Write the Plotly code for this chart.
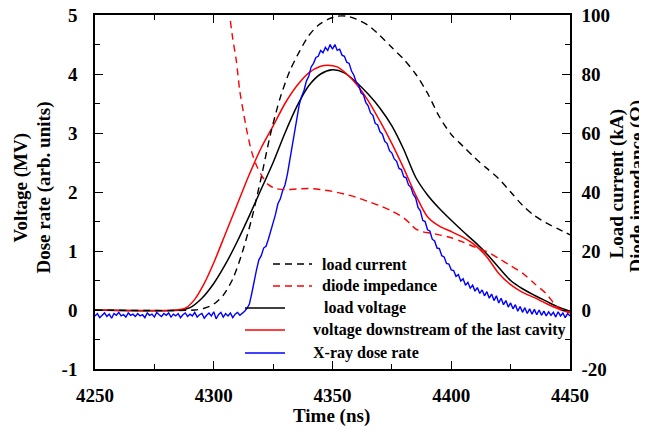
import plotly.graph_objects as go

# ---------------- data ----------------
# X-ray dose rate (arb. units), 1 ns steps from 4250 to 4450
dose_t = list(range(4250, 4451))
dose_v = [
    -0.10, -0.06, -0.13, -0.08, -0.05, -0.11, -0.07, -0.14, -0.06, -0.09,
    -0.04, -0.10, -0.08, -0.12, -0.05, -0.09, -0.07, -0.11, -0.06, -0.10,
    -0.08, -0.13, -0.05, -0.09, -0.07, -0.12, -0.04, -0.08, -0.11, -0.06,
    -0.09, -0.05, -0.12, -0.07, -0.10, -0.06, -0.13, -0.08, -0.05, -0.11,
    -0.07, -0.10, -0.04, -0.12, -0.08, -0.06, -0.14, -0.09, -0.05, -0.10,
    -0.03, -0.15, -0.08, -0.04, -0.12, -0.06, -0.10, -0.05, -0.13, -0.07,
    -0.04, -0.09, -0.06,
    -0.02, 0.03, 0.10, 0.28, 0.50, 0.68, 0.85, 0.92, 1.05, 1.08,
    1.20, 1.33, 1.50, 1.62, 1.80, 1.88, 2.02, 2.12, 2.30, 2.55,
    2.80, 3.02, 3.30, 3.48, 3.62, 3.72, 3.88, 3.96, 4.12, 4.18,
    4.28, 4.30, 4.40, 4.36, 4.45, 4.40, 4.50, 4.42, 4.50, 4.40,
    4.42, 4.32, 4.30, 4.20, 4.18, 4.05, 3.98, 3.86, 3.82, 3.68,
    3.65, 3.52, 3.46, 3.34, 3.30, 3.16, 3.14, 3.02, 2.98, 2.86,
    2.82, 2.70, 2.66, 2.56, 2.52, 2.40, 2.38, 2.26, 2.24, 2.12,
    2.08, 1.96, 1.90, 1.74, 1.68, 1.52, 1.50, 1.36, 1.34, 1.20,
    1.17, 1.05, 1.04, 0.92, 0.90, 0.79, 0.78, 0.68, 0.67, 0.57,
    0.60, 0.49, 0.53, 0.42, 0.47, 0.37, 0.42, 0.32, 0.38, 0.28,
    0.34, 0.24, 0.31, 0.20, 0.27, 0.16, 0.24, 0.12, 0.20, 0.09,
    0.16, 0.05, 0.12, 0.02, 0.09, -0.02, 0.06, -0.04, 0.04, -0.06,
    0.02, -0.07, 0.01, -0.08, 0.00, -0.09, -0.02, -0.10, -0.03, -0.09,
    -0.04, -0.12, -0.03, -0.10, -0.05, -0.13, -0.06, -0.10,
]

# load voltage (MV)
lv_t = [4250, 4286, 4290, 4295, 4300, 4305, 4310, 4315, 4320, 4325, 4330,
        4335, 4340, 4345, 4350, 4355, 4360, 4365, 4370, 4375, 4380, 4385,
        4390, 4395, 4400, 4405, 4410, 4415, 4420, 4425, 4430, 4435, 4440,
        4445, 4450]
lv_v = [0.0, 0.0, 0.04, 0.2, 0.45, 0.78, 1.17, 1.6, 2.05, 2.5, 3.0,
        3.45, 3.8, 4.0, 4.07, 4.02, 3.86, 3.66, 3.42, 3.12, 2.72, 2.25,
        1.95, 1.72, 1.52, 1.33, 1.15, 0.95, 0.72, 0.5, 0.36, 0.25, 0.15,
        0.05, -0.02]

# voltage downstream of the last cavity (MV)
vd_t = [4250, 4284, 4288, 4292, 4296, 4300, 4305, 4310, 4315, 4320, 4325,
        4330, 4335, 4340, 4345, 4348, 4352, 4356, 4360, 4365, 4370, 4375,
        4380, 4385, 4390, 4395, 4400, 4405, 4410, 4415, 4420, 4425, 4430,
        4435, 4440, 4445, 4450]
vd_v = [0.0, 0.0, 0.03, 0.18, 0.45, 0.8, 1.3, 1.8, 2.3, 2.75, 3.12,
        3.5, 3.8, 4.02, 4.13, 4.15, 4.12, 4.0, 3.83, 3.55, 3.2, 2.82,
        2.4, 1.95, 1.58, 1.42, 1.33, 1.23, 1.1, 0.9, 0.62, 0.43, 0.3,
        0.21, 0.11, 0.02, -0.05]

# load current (kA)
lc_t = [4250, 4292, 4296, 4300, 4304, 4308, 4312, 4316, 4320, 4324, 4328,
        4332, 4336, 4340, 4344, 4348, 4352, 4356, 4360, 4365, 4370, 4375,
        4380, 4385, 4390, 4395, 4400, 4405, 4410, 4415, 4420, 4425, 4430,
        4435, 4440, 4445, 4450]
lc_v = [0.0, 0.0, 0.6, 2.0, 5.0, 10.5, 19.5, 31.0, 45.0, 60.0, 72.0,
        81.0, 87.5, 93.0, 96.5, 98.5, 99.6, 99.6, 98.6, 96.5, 93.0, 89.0,
        85.0, 80.0, 73.5, 65.5, 59.5, 55.5, 51.5, 48.0, 44.5, 40.0, 35.5,
        32.0, 29.5, 27.5, 25.5]

# diode impedance (Ohm)
di_t = [4307.0, 4308.0, 4309.5, 4311.0, 4312.5, 4314.0, 4316.0, 4318.0,
        4320.6, 4323.0, 4326.0, 4330.0, 4335.0, 4340.0, 4345.0, 4350.0,
        4355.0, 4360.0, 4365.0, 4370.0, 4375.0, 4380.0, 4383.0, 4385.0,
        4388.0, 4392.0, 4396.0, 4400.0, 4405.0, 4410.0, 4415.0, 4420.0,
        4425.0, 4430.0, 4435.0, 4440.0, 4444.0, 4447.0, 4450.0]
di_v = [98.0, 92.0, 84.5, 74.0, 67.0, 60.5, 53.5, 49.0,
        45.0, 42.5, 41.2, 40.8, 41.0, 41.2, 40.8, 40.2,
        39.3, 38.2, 36.8, 35.3, 33.5, 31.2, 29.0, 27.5,
        26.5, 26.0, 25.3, 24.5, 23.0, 21.3, 19.8, 17.5,
        15.0, 12.5, 9.0, 5.5, 1.5, -0.3, -0.5]

legend_labels = ["load current", "diode impedance", "load voltage",
                 "voltage downstream of the last cavity", "X-ray dose rate"]

x_ticks = [4250, 4300, 4350, 4400, 4450]
y_ticks = [-1, 0, 1, 2, 3, 4, 5]
y_ticktext = ["-1", "0", "1", "2", "3", "4", "5"]
y2_ticks = [-20, 0, 20, 40, 60, 80, 100]
y2_ticktext = ["-20", "0", "20", "40", "60", "80", "100"]

# ---------------- layout helpers ----------------
# the page body has an 8px margin, so the figure is drawn 8px in from the corner
OFF = 8
W, H = 647 - OFF, 433 - OFF
# plot area in page pixels
PL, PR, PT, PB = 95, 570, 15, 369
L, R, T, B = PL - OFF, PR - OFF, PT - OFF, PB - OFF
FONT = "Liberation Serif"


def px(x):
    """page x pixel -> paper coordinate"""
    return (x - PL) / (PR - PL)


def py(y):
    """page y pixel -> paper coordinate"""
    return (PB - y) / (PB - PT)


fig = go.Figure()

fig.add_trace(go.Scatter(x=lc_t, y=lc_v, yaxis="y2", mode="lines",
                         line=dict(color="black", width=1.4, dash="7px,5px", shape="spline", smoothing=0.8),
                         name=legend_labels[0], showlegend=False))
fig.add_trace(go.Scatter(x=di_t, y=di_v, yaxis="y2", mode="lines",
                         line=dict(color="#ff0000", width=1.4, dash="7px,5px", shape="spline", smoothing=0.8),
                         name=legend_labels[1], showlegend=False))
fig.add_trace(go.Scatter(x=lv_t, y=lv_v, mode="lines",
                         line=dict(color="black", width=1.5, shape="spline", smoothing=0.8),
                         name=legend_labels[2], showlegend=False))
fig.add_trace(go.Scatter(x=vd_t, y=vd_v, mode="lines",
                         line=dict(color="#ff0000", width=1.5, shape="spline", smoothing=0.8),
                         name=legend_labels[3], showlegend=False))
fig.add_trace(go.Scatter(x=dose_t, y=dose_v, mode="lines",
                         line=dict(color="#0000ff", width=1.4),
                         name=legend_labels[4], showlegend=False))

tickfont = dict(family=FONT, size=19, color="black", weight="bold")
titlefont = dict(family=FONT, size=19, color="black", weight="bold")

fig.update_layout(
    width=W, height=H,
    font=dict(family=FONT, color="black"),
    margin=dict(l=L, r=W - R, t=T, b=H - B, pad=0, autoexpand=False),
    plot_bgcolor="white", paper_bgcolor="white",
    showlegend=False,
    xaxis=dict(range=[4250, 4450], tickvals=x_ticks, ticks="inside", ticklen=8,
               tickwidth=1.2, tickcolor="black", automargin=False, ticklabeloverflow="allow",
               minor=dict(dtick=25, tick0=4250, ticks="inside", ticklen=5, tickwidth=1.2, tickcolor="black"),
               showline=True, linecolor="black", linewidth=1.5, mirror="ticks",
               showgrid=False, zeroline=False, tickfont=tickfont, ticklabelstandoff=8),
    yaxis=dict(range=[-1, 5], tickvals=y_ticks, ticktext=y_ticktext, ticks="inside", ticklen=8,
               tickwidth=1.2, tickcolor="black", automargin=False, ticklabeloverflow="allow",
               minor=dict(dtick=0.5, tick0=0, ticks="inside", ticklen=5, tickwidth=1.2, tickcolor="black"),
               showline=True, linecolor="black", linewidth=1.5,
               showgrid=False, zeroline=False, tickfont=tickfont, ticklabelstandoff=12),
    yaxis2=dict(range=[-20, 100], tickvals=y2_ticks, ticktext=y2_ticktext, overlaying="y", side="right",
                ticks="inside", ticklen=8, tickwidth=1.2, tickcolor="black", automargin=False,
                ticklabeloverflow="allow",
                minor=dict(dtick=10, tick0=0, ticks="inside", ticklen=5, tickwidth=1.2, tickcolor="black"),
                showline=True, linecolor="black", linewidth=1.5,
                showgrid=False, zeroline=False, tickfont=tickfont, ticklabelstandoff=6),
)

annotations = [
    dict(text="Time (ns)", x=px(331), y=py(416), xref="paper", yref="paper",
         xanchor="center", yanchor="middle", showarrow=False, font=titlefont),
]
# rotated axis titles, one annotation per line: (text, page x, page y)
side_titles = [
    ("Voltage (MV)", 20.5, 188),
    ("Dose rate (arb. units)", 43.5, 188),
    ("Load current (kA)", 616.5, 184),
    ("Diode impedance (Ω)", 636.5, 187),
]
for txt, tx, ty in side_titles:
    annotations.append(dict(text=txt, x=px(tx), y=py(ty), xref="paper", yref="paper",
                            xanchor="center", yanchor="middle", textangle=-90,
                            showarrow=False, font=titlefont))

legend_font = dict(family=FONT, size=16, color="black", weight="bold")
legend_rows = [
    # (label, color, dash, line x0, line x1, text x, y) in page pixels
    (legend_labels[0], "black", "7px,5px", 273, 312, 320, 264),
    (legend_labels[1], "#ff0000", "7px,5px", 273, 312, 320, 286),
    (legend_labels[2], "black", "solid", 245, 285, 322, 308),
    (legend_labels[3], "#ff0000", "solid", 245, 285, 311, 330),
    (legend_labels[4], "#0000ff", "solid", 245, 285, 311, 353),
]
shapes = []
for lab, col, dash, x0, x1, tx, yy in legend_rows:
    shapes.append(dict(type="line", xref="paper", yref="paper",
                       x0=px(x0), x1=px(x1), y0=py(yy), y1=py(yy),
                       line=dict(color=col, width=1.5, dash=dash)))
    annotations.append(dict(text=lab, x=px(tx), y=py(yy), xref="paper", yref="paper",
                            xanchor="left", yanchor="middle", showarrow=False,
                            font=legend_font))

fig.update_layout(annotations=annotations, shapes=shapes)

fig.write_html("out.html")
